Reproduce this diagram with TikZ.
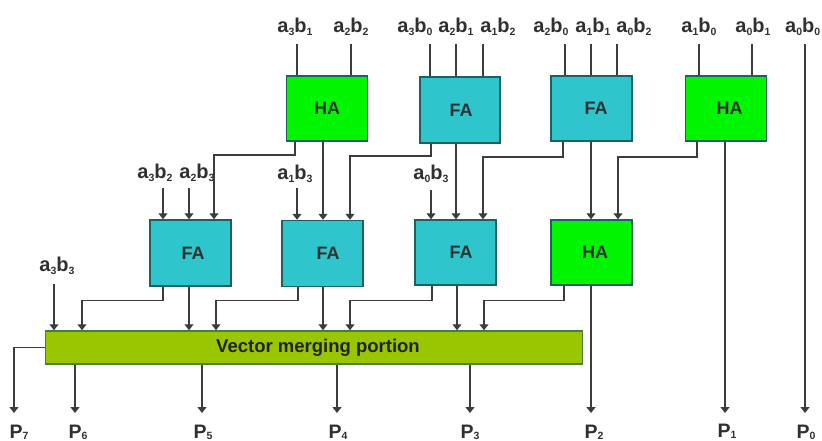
\documentclass[tikz,border=0pt]{standalone}
\usepackage{fontspec}
\setmainfont{Liberation Sans}
\usetikzlibrary{arrows.meta}
\definecolor{wirec}{HTML}{3C3C3C}
\definecolor{edgec}{HTML}{1E5F60}
\definecolor{fac}{HTML}{2EC6CC}
\definecolor{hac}{HTML}{00F500}
\definecolor{vecc}{HTML}{99C600}
\definecolor{textc}{HTML}{303030}
\newcommand{\sbs}[1]{\raisebox{-2.5pt}{\fontsize{10.5}{10.5}\selectfont #1}}
\newcommand{\sbp}[1]{\raisebox{-1pt}{\fontsize{10.5}{10.5}\selectfont #1}}
\newcommand{\ab}[2]{a\sbs{#1}b\sbs{#2}}
\newcommand{\nudge}[2]{\hspace*{#1pt}#2}
\tikzset{
  x=1pt,y=-1pt,
  wire/.style={draw=wirec,line width=1.4pt,line join=miter},
  arr/.style={wire,-{Triangle[width=9pt,length=6pt]}},
  blockbox/.style={draw=edgec,line width=1.5pt,minimum width=81pt,minimum height=65pt,inner sep=0pt,
    font=\fontsize{18}{18}\selectfont\bfseries,text=textc},
  fabox/.style={blockbox,fill=fac},
  habox/.style={blockbox,fill=hac},
  vecbox/.style={draw=edgec!70!vecc,line width=1.5pt,fill=vecc,minimum width=537pt,minimum height=33pt,inner sep=0pt,
    font=\fontsize{18.5}{18.5}\selectfont\bfseries,text=textc!70!black},
  inlab/.style={font=\fontsize{20}{20}\selectfont\bfseries,text=textc,inner sep=0pt},
  outlab/.style={font=\fontsize{19.5}{19.5}\selectfont\bfseries,text=textc,inner sep=0pt,anchor=base},
}
\begin{document}
\begin{tikzpicture}
\useasboundingbox (0,0) rectangle (822,441);
% blocks
\node[habox] (ha1) at (327,108.5) {HA};
\node[fabox,minimum width=80pt,minimum height=66pt] (fa1) at (460,110) {\nudge{2}{FA}};
\node[fabox] (fa2) at (591.5,108.5) {\nudge{9}{FA}};
\node[habox] (ha2) at (726,108.5) {\nudge{7}{HA}};
\node[fabox,minimum height=66pt] (fb1) at (190.5,253) {\nudge{5}{FA}};
\node[fabox,minimum height=66pt] (fb2) at (322.5,253.5) {\nudge{11}{FA}};
\node[fabox] (fb3) at (455.5,252.5) {\nudge{11}{FA}};
\node[habox] (hb) at (591.5,252.5) {\nudge{7}{HA}};
\node[vecbox] (vec) at (314,347.5) {\nudge{8}{\raisebox{-2pt}{Vector merging portion}}};
% top labels
\node[inlab] (l31) at (295,27) {\ab31};
\node[inlab] (l22) at (351,27) {\ab22};
\node[inlab] (l30) at (415,27) {\ab30};
\node[inlab] (l21) at (456,27) {\ab21};
\node[inlab] (l12) at (498,27) {\ab12};
\node[inlab] (l20) at (551,27) {\ab20};
\node[inlab] (l11) at (593,27) {\ab11};
\node[inlab] (l02) at (634,27) {\ab02};
\node[inlab] (l10) at (699,27) {\ab10};
\node[inlab] (l01) at (753,27) {\ab01};
\node[inlab,anchor=west] (l00) at (785,27) {\ab00};
% middle labels
\node[inlab] (l32) at (155,173) {\ab32};
\node[inlab] (l23) at (197,173) {\ab23};
\node[inlab] (l13) at (295,174) {\ab13};
\node[inlab] (l03) at (431,174) {\ab03};
\node[inlab] (l33) at (57,266) {\ab33};
% free ends
\coordinate (t31) at (297,44);
\coordinate (t22) at (351,44);
\coordinate (t30) at (430,44);
\coordinate (t21) at (456,44);
\coordinate (t12) at (483,44);
\coordinate (t20) at (565,44);
\coordinate (t11) at (591,44);
\coordinate (t02) at (617,44);
\coordinate (t10) at (699,44);
\coordinate (t01) at (752,44);
\coordinate (t00) at (805,44);
\coordinate (t32) at (163,188);
\coordinate (t2b) at (189,188);
\coordinate (t13) at (297,188);
\coordinate (t03) at (431,190);
\coordinate (t33) at (54,284);
% output labels
\node[outlab] (p7) at (19,438) {P\sbp{7}};
\node[outlab] (p6) at (78,438) {P\sbp{6}};
\node[outlab] (p5) at (203,438) {P\sbp{5}};
\node[outlab] (p4) at (338,438) {P\sbp{4}};
\node[outlab] (p3) at (470,438) {P\sbp{3}};
\node[outlab] (p2) at (594,438) {P\sbp{2}};
\node[outlab] (p1) at (727,437) {P\sbp{1}};
\node[outlab] (p0) at (806,438) {P\sbp{0}};
\coordinate (e7) at (14,413);
\coordinate (e6) at (75,413);
\coordinate (e5) at (202,413);
\coordinate (e4) at (337,413);
\coordinate (e3) at (470,413);
\coordinate (e2) at (591,413);
\coordinate (e1) at (725,413);
\coordinate (e0) at (805,413);
% top inputs
\draw[wire] (t31) -- (t31 |- ha1.north);
\draw[wire] (t22) -- (t22 |- ha1.north);
\draw[wire] (t30) -- (t30 |- fa1.north);
\draw[wire] (t21) -- (t21 |- fa1.north);
\draw[wire] (t12) -- (t12 |- fa1.north);
\draw[wire] (t20) -- (t20 |- fa2.north);
\draw[wire] (t11) -- (t11 |- fa2.north);
\draw[wire] (t02) -- (t02 |- fa2.north);
\draw[wire] (t10) -- (t10 |- ha2.north);
\draw[wire] (t01) -- (t01 |- ha2.north);
% row 1 to row 2
\draw[arr] (295,0 |- ha1.south) |- (214,155) -- (214,0 |- fb1.north);
\draw[arr] (323,0 |- ha1.south) -- (323,0 |- fb2.north);
\draw[arr] (431,0 |- fa1.south) |- (350,156) -- (350,0 |- fb2.north);
\draw[arr] (456,0 |- fa1.south) -- (456,0 |- fb3.north);
\draw[arr] (563,0 |- fa2.south) |- (483,157) -- (483,0 |- fb3.north);
\draw[arr] (591,0 |- fa2.south) -- (591,0 |- hb.north);
\draw[arr] (697,0 |- ha2.south) |- (618,157) -- (618,0 |- hb.north);
% row 2 free inputs
\draw[arr] (t32) -- (t32 |- fb1.north);
\draw[arr] (t2b) -- (t2b |- fb1.north);
\draw[arr] (t13) -- (t13 |- fb2.north);
\draw[arr] (t03) -- (t03 |- fb3.north);
% row 2 to merger
\draw[arr] (t33) -- (t33 |- vec.north);
\draw[arr] (163,0 |- fb1.south) |- (82,300.5) -- (82,0 |- vec.north);
\draw[arr] (189,0 |- fb1.south) -- (189,0 |- vec.north);
\draw[arr] (298,0 |- fb2.south) |- (216,300.5) -- (216,0 |- vec.north);
\draw[arr] (323,0 |- fb2.south) -- (323,0 |- vec.north);
\draw[arr] (432,0 |- fb3.south) |- (350,300.5) -- (350,0 |- vec.north);
\draw[arr] (457,0 |- fb3.south) -- (457,0 |- vec.north);
\draw[arr] (564,0 |- hb.south) |- (484,300.5) -- (484,0 |- vec.north);
% outputs
\draw[arr] (vec.west) -| (e7);
\draw[arr] (e6 |- vec.south) -- (e6);
\draw[arr] (e5 |- vec.south) -- (e5);
\draw[arr] (e4 |- vec.south) -- (e4);
\draw[arr] (e3 |- vec.south) -- (e3);
\draw[arr] (e2 |- hb.south) -- (e2);
\draw[arr] (e1 |- ha2.south) -- (e1);
\draw[arr] (t00) -- (e0);
\end{tikzpicture}
\end{document}
